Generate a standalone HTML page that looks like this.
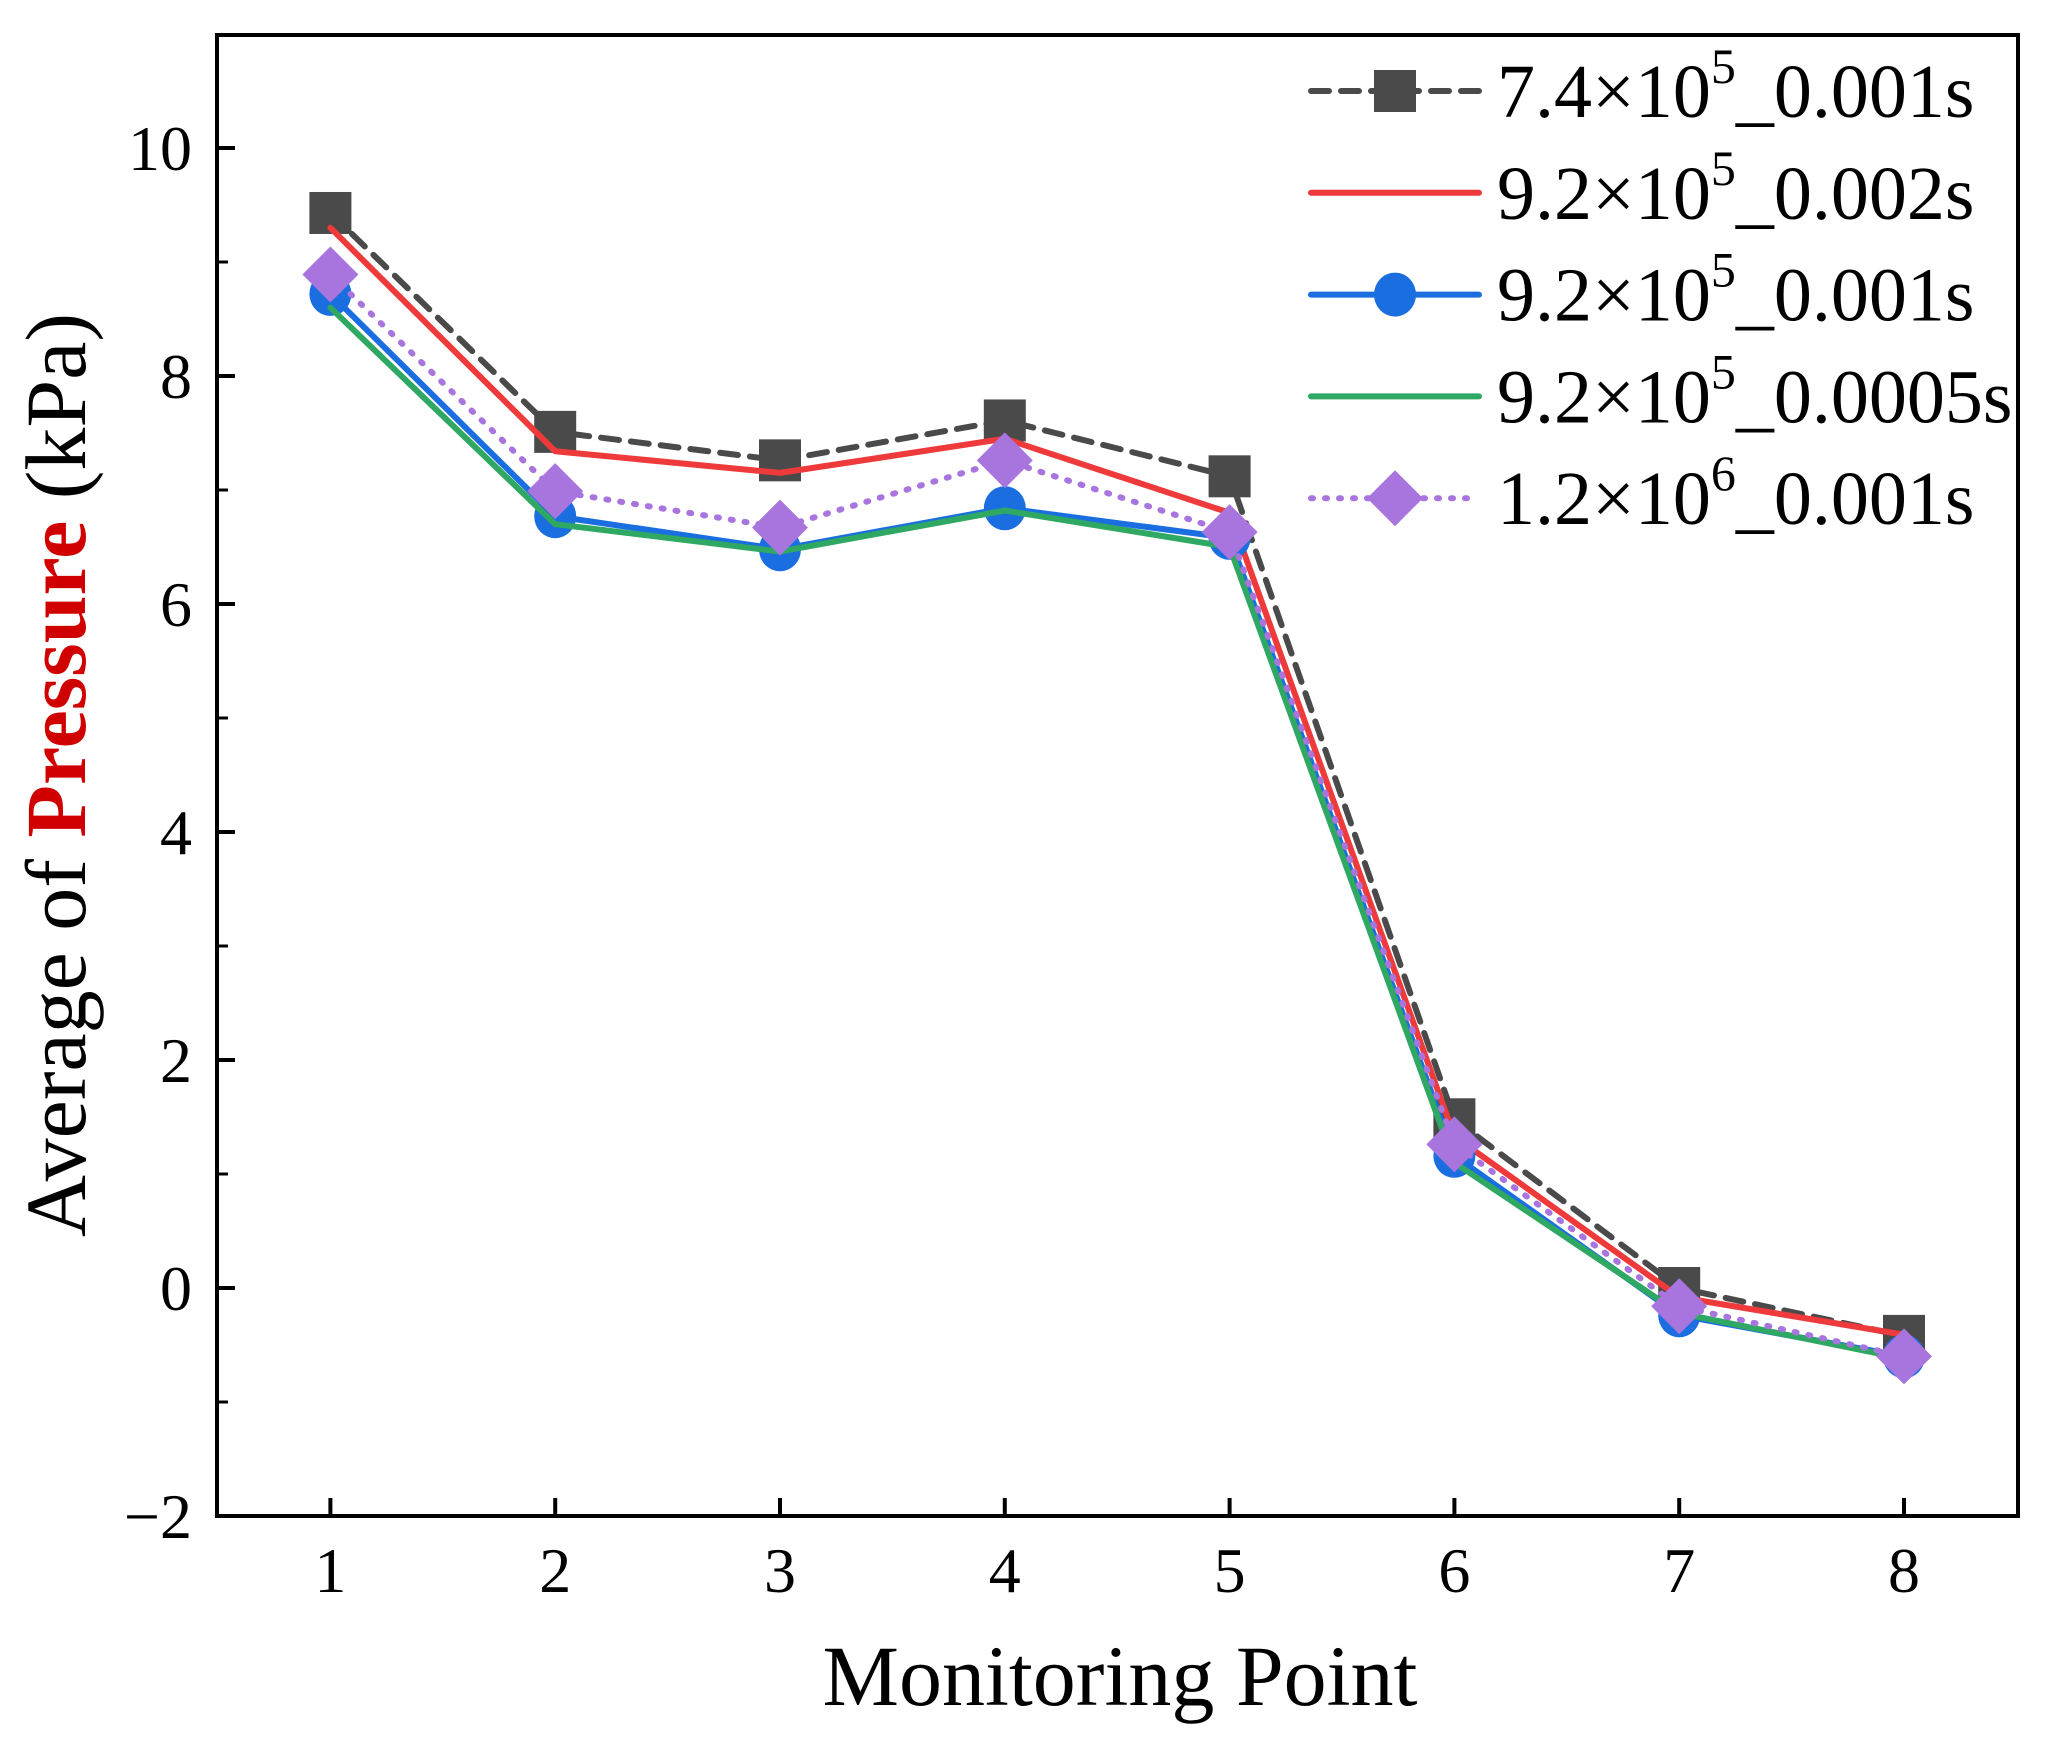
<!DOCTYPE html>
<html><head><meta charset="utf-8"><style>
html,body{margin:0;padding:0;background:#fff;}
svg{display:block;font-family:"Liberation Serif",serif;}
</style></head><body>
<svg id="chart" width="2048" height="1752" viewBox="0 0 2048 1752">
<g id="series"></g>
<rect x="217" y="35" width="1801" height="1481" fill="none" stroke="#000" stroke-width="4"/>
<g id="axes"></g>
<text x="1120" y="1705" font-size="86" text-anchor="middle">Monitoring Point</text>
<text transform="translate(85,775) rotate(-90)" font-size="86" text-anchor="middle">Average of <tspan fill="#d00000" font-weight="bold">Pressure</tspan> (kPa)</text>
<g id="legend"></g>
</svg>
<script>
const categories = [1,2,3,4,5,6,7,8];
const s74_001 = [9.43,7.51,7.26,7.61,7.12,1.48,0.0,-0.42];
const s92_002 = [9.3,7.34,7.15,7.45,6.8,1.33,-0.08,-0.41];
const s92_001 = [8.72,6.77,6.48,6.84,6.58,1.16,-0.24,-0.6];
const s92_0005 = [8.6,6.7,6.46,6.82,6.5,1.1,-0.22,-0.62];
const s12_001 = [8.89,6.99,6.67,7.26,6.63,1.26,-0.16,-0.6];
const yTicks = [-2,0,2,4,6,8,10];
const yMinor = [-1,1,3,5,7,9];
const legendLabels = [["7.4×10","5","_0.001s"],["9.2×10","5","_0.002s"],["9.2×10","5","_0.001s"],["9.2×10","5","_0.0005s"],["1.2×10","6","_0.001s"]];

const NS="http://www.w3.org/2000/svg";
const X=v=>330.4+(v-1)*224.8;
const Y=v=>1288-v*114;
function el(tag,attrs,parent){const e=document.createElementNS(NS,tag);for(const k in attrs)e.setAttribute(k,attrs[k]);parent.appendChild(e);return e;}

const axes=document.getElementById('axes');
yTicks.forEach(t=>{
  const l=el('line',{x1:217,x2:235,y1:Y(t),y2:Y(t),stroke:'#000','stroke-width':4},axes);
  
  
  const tx=el('text',{x:192,y:Y(t)+22,'font-size':64,'text-anchor':'end'},axes);
  tx.textContent=t<0?'\u2212'+Math.abs(t):String(t);
  
  
});
yMinor.forEach(t=>{
  const l=el('line',{x1:217,x2:228,y1:Y(t),y2:Y(t),stroke:'#000','stroke-width':3},axes);
  
  
});
categories.forEach(c=>{
  const l=el('line',{x1:X(c),x2:X(c),y1:1516,y2:1498,stroke:'#000','stroke-width':4},axes);
  
  
  const tx=el('text',{x:X(c),y:1592,'font-size':64,'text-anchor':'middle'},axes);
  tx.textContent=String(c);
  
  
});

const seriesDefs=[
  {data:s74_001,color:'#4a4a4a',dash:'18,12',marker:'square',name:'series-7.4e5-0.001s'},
  {data:s92_002,color:'#ee3a3a',dash:null,marker:null,name:'series-9.2e5-0.002s'},
  {data:s92_001,color:'#1a6ee0',dash:null,marker:'circle',name:'series-9.2e5-0.001s'},
  {data:s92_0005,color:'#2ea862',dash:null,marker:null,name:'series-9.2e5-0.0005s'},
  {data:s12_001,color:'#a875de',dash:'2,12',marker:'diamond',name:'series-1.2e6-0.001s'}
];
function marker(g,type,cx,cy,color){
  let m;
  if(type==='square') m=el('rect',{x:cx-21,y:cy-21,width:42,height:42,fill:color},g);
  else if(type==='circle') m=el('ellipse',{cx:cx,cy:cy,rx:21,ry:22,fill:color},g);
  else if(type==='diamond') m=el('polygon',{points:`${cx},${cy-28} ${cx+28},${cy} ${cx},${cy+28} ${cx-28},${cy}`,fill:color},g);
  if(m){}
}
const sg=document.getElementById('series');
seriesDefs.forEach(s=>{
  const g=el('g',{},sg);
  
  
  const pts=s.data.map((v,i)=>X(categories[i])+','+Y(v)).join(' ');
  const a={points:pts,fill:'none',stroke:s.color,'stroke-width':6,'stroke-linejoin':'round','stroke-linecap':'round'};
  if(s.dash)a['stroke-dasharray']=s.dash;
  const pl=el('polyline',a,g);
  
  
  if(s.marker) s.data.forEach((v,i)=>marker(g,s.marker,X(categories[i]),Y(v),s.color));
});

const lg=document.getElementById('legend');
seriesDefs.forEach((s,i)=>{
  const y=91+i*101.8;
  const g=el('g',{},lg);
  
  
  const a={x1:1311,x2:1479,y1:y,y2:y,stroke:s.color,'stroke-width':6,'stroke-linecap':'round'};
  if(s.dash)a['stroke-dasharray']=s.dash;
  const l=el('line',a,g);
  
  
  if(s.marker)marker(g,s.marker,1395,y,s.color);
  const t=el('text',{x:1497,y:y+26,'font-size':76},g);
  
  
  const lab=legendLabels[i];
  const t1=el('tspan',{},t);t1.textContent=lab[0];
  const t2=el('tspan',{dy:-34,'font-size':50},t);t2.textContent=lab[1];
  const t3=el('tspan',{dy:34},t);t3.textContent=lab[2];
});
</script>
</body></html>
